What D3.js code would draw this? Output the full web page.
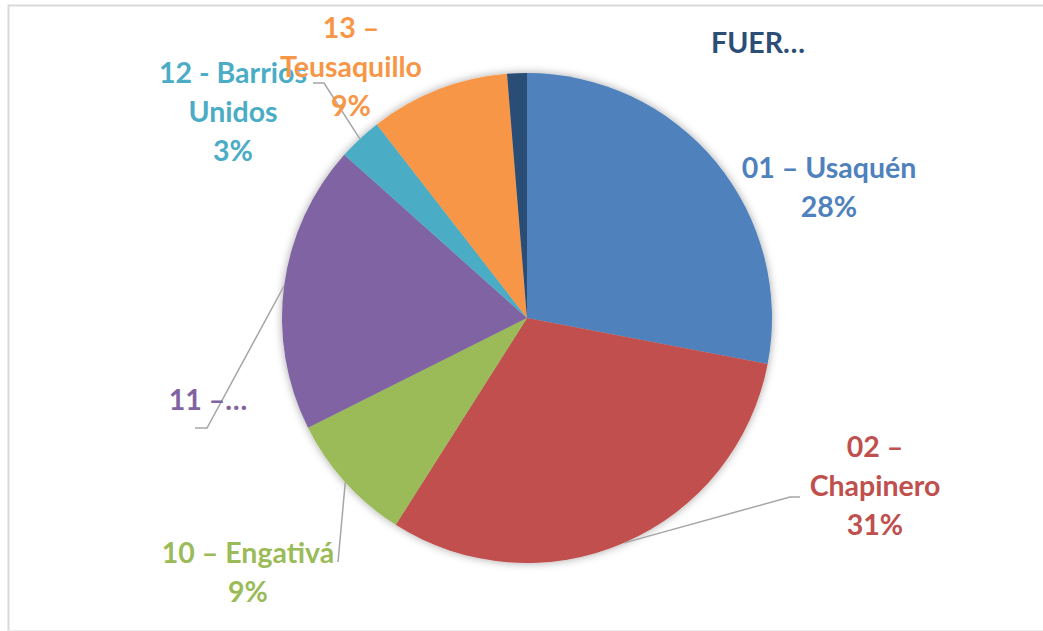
<!DOCTYPE html>
<html>
<head>
<meta charset="utf-8">
<script src="https://cdn.jsdelivr.net/npm/d3@7"></script>
<style>
  html, body { margin: 0; padding: 0; background: #fff; }
  svg { display: block; }
  text { font-family: Lato, "Open Sans", sans-serif; font-weight: 700; }
</style>
</head>
<body>
<svg id="chart" width="1043" height="631"></svg>
<script>
// ---- data ----
const categories = ["01 – Usaquén", "02 – Chapinero", "10 – Engativá", "11 – Suba", "12 - Barrios Unidos", "13 – Teusaquillo", "FUERA"];
const values = [28.0, 31.0, 8.6, 19.0, 2.9, 9.2, 1.3];
const labelLines = [
  ["01 – Usaquén", "28%"],
  ["02 –", "Chapinero", "31%"],
  ["10 – Engativá", "9%"],
  ["11 –…"],
  ["12 - Barrios", "Unidos", "3%"],
  ["13 –", "Teusaquillo", "9%"],
  ["FUER…"]
];
const colors = ["#4F81BD", "#C0504D", "#9BBB59", "#8064A2", "#4BACC6", "#F79646", "#2C4D75"];

// ---- layout (positions only) ----
const cx = 527, cy = 318, R = 245;
const labelLayout = [
  { x: 829, y: 178, leader: null },
  { x: 875, y: 457, leader: [[790, 497], [800, 497]] },
  { x: 248, y: 563, leader: [[338, 562]] },
  { x: 208, y: 410, leader: [[207, 428], [195, 428]] },
  { x: 233, y: 83, leader: [[324, 83], [313, 83]] },
  { x: 351, y: 38, leader: null },
  { x: 758, y: 53, leader: null }
];
const lineGap = 39;

const svg = d3.select("#chart");

// chart border (cropped frame)
svg.append("path")
  .attr("d", "M8.5,640 L8.5,5.5 L1050,5.5")
  .attr("fill", "none").attr("stroke", "#d9d9d9").attr("stroke-width", 2);
svg.append("line").attr("x1", 8).attr("x2", 1043).attr("y1", 630.5).attr("y2", 630.5)
  .attr("stroke", "#eeeeee").attr("stroke-width", 1);

const defs = svg.append("defs");
const f = defs.append("filter").attr("id", "shadow").attr("x", "-20%").attr("y", "-20%").attr("width", "140%").attr("height", "140%");
f.append("feDropShadow").attr("dx", 0).attr("dy", 0).attr("stdDeviation", 4)
  .attr("flood-color", "#000").attr("flood-opacity", 0.35);

const data = categories.map((c, i) => ({ cat: c, value: values[i], i }));
const pie = d3.pie().sort(null).value(d => d.value).startAngle(0).endAngle(2 * Math.PI);
const arcs = pie(data);
const arc = d3.arc().innerRadius(0).outerRadius(R);
const edge = d3.arc().innerRadius(R).outerRadius(R);

const g = svg.append("g").attr("transform", `translate(${cx},${cy})`);
g.append("g").attr("filter", "url(#shadow)")
  .selectAll("path").data(arcs).join("path")
  .attr("d", arc)
  .attr("fill", d => colors[d.data.i]);

// leader lines
arcs.forEach(d => {
  const L = labelLayout[d.data.i];
  if (!L.leader) return;
  const [sx, sy] = edge.centroid(d);
  const pts = [[cx + sx, cy + sy], ...L.leader];
  svg.append("path")
    .attr("d", d3.line()(pts))
    .attr("fill", "none").attr("stroke", "#a6a6a6").attr("stroke-width", 1.5);
});

// labels
arcs.forEach(d => {
  const i = d.data.i;
  const L = labelLayout[i];
  const t = svg.append("text")
    .attr("text-anchor", "middle")
    .attr("fill", colors[i])
    .attr("font-size", 28.5);
  labelLines[i].forEach((s, k) => {
    t.append("tspan").attr("x", L.x).attr("y", L.y + k * lineGap).text(s);
  });
});
</script>
</body>
</html>
